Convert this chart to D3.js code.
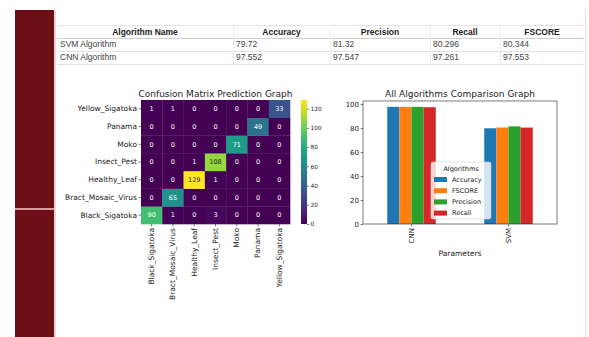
<!DOCTYPE html>
<html><head><meta charset="utf-8">
<script src="https://cdn.jsdelivr.net/npm/d3@7"></script>
<style>
html,body{margin:0;padding:0;background:#fff;}
svg{display:block;}
text{font-family:"DejaVu Sans",sans-serif;}
.tbl text{font-family:"Liberation Sans",Arial,sans-serif;}
</style></head><body>
<svg id="c" width="589" height="337"></svg>
<script>
// ---- results table / bar chart data ----
const tableColumns = ["Algorithm Name", "Accuracy", "Precision", "Recall", "FSCORE"];
const algoNames = ["SVM Algorithm", "CNN Algorithm"];
const algoShort = ["SVM", "CNN"];
const accuracy = [79.72, 97.552];
const precision = [81.32, 97.547];
const recall = [80.296, 97.261];
const fscore = [80.344, 97.553];

// ---- confusion matrix data ----
const classes = ["Black_Sigatoka", "Bract_Mosaic_Virus", "Healthy_Leaf", "Insect_Pest", "Moko", "Panama", "Yellow_Sigatoka"];
const confusion = [
  [90, 1, 0, 3, 0, 0, 0],
  [0, 65, 0, 0, 0, 0, 0],
  [0, 0, 129, 1, 0, 0, 0],
  [0, 0, 1, 108, 0, 0, 0],
  [0, 0, 0, 0, 71, 0, 0],
  [0, 0, 0, 0, 0, 49, 0],
  [1, 1, 0, 0, 0, 0, 33]
];
const colorbarTicks = [0, 20, 40, 60, 80, 100, 120];

// ---- comparison chart settings ----
const barCategories = ["CNN", "SVM"];
const metrics = ["Accuracy", "FSCORE", "Precision", "Recall"];
const metricColors = ["#1f77b4", "#ff7f0e", "#2ca02c", "#d62728"];
const barTicks = [0, 20, 40, 60, 80, 100];

const svg = d3.select("#c");

// page frame: maroon side strip and faint borders
svg.append("rect").attr("x", 15).attr("y", 10).attr("width", 39).attr("height", 327).attr("fill", "#6c0e15");
svg.append("rect").attr("x", 15).attr("y", 208).attr("width", 39).attr("height", 2).attr("fill", "#d49a9f");
svg.append("rect").attr("x", 54).attr("y", 10).attr("width", 2).attr("height", 327).attr("fill", "#f2d0d3");
svg.append("rect").attr("x", 585).attr("y", 10).attr("width", 1).attr("height", 327).attr("fill", "#f4d8da");

// ---------------- table ----------------
const colEdges = [57, 233, 330, 430, 500, 584];
const rowEdges = [25, 38, 51, 64];
const tbl = svg.append("g").attr("class", "tbl");
rowEdges.forEach((y, i) => {
  tbl.append("line").attr("x1", colEdges[0]).attr("x2", colEdges[5]).attr("y1", y + 0.5).attr("y2", y + 0.5)
    .attr("stroke", i === 1 ? "#cfcfcf" : "#e2e2e2").attr("stroke-width", 1);
});
colEdges.slice(1, 5).forEach(x => {
  tbl.append("line").attr("x1", x + 0.5).attr("x2", x + 0.5).attr("y1", rowEdges[0]).attr("y2", rowEdges[3])
    .attr("stroke", "#ececec");
});
tableColumns.forEach((c, i) => {
  tbl.append("text").attr("x", (colEdges[i] + colEdges[i + 1]) / 2).attr("y", 32).attr("dy", "0.35em")
    .attr("text-anchor", "middle").attr("font-size", 8.5).attr("font-weight", "bold").attr("fill", "#222").text(c);
});
const tableRows = algoNames.map((n, i) => [n, accuracy[i], precision[i], recall[i], fscore[i]]);
tableRows.forEach((r, ri) => {
  r.forEach((v, ci) => {
    tbl.append("text").attr("x", colEdges[ci] + 3).attr("y", 44.5 + ri * 13).attr("dy", "0.35em")
      .attr("font-size", 8.5).attr("fill", "#444").text(String(v));
  });
});

// ---------------- confusion matrix heatmap ----------------
const hm = { left: 141, right: 290, top: 100, bottom: 224 };
const vmax = d3.max(confusion.flat());
const hx = d3.scaleBand().domain(classes).range([hm.left, hm.right]);
const hy = d3.scaleBand().domain(classes.slice().reverse()).range([hm.top, hm.bottom]);
const hcol = d3.scaleSequential(d3.interpolateViridis).domain([0, vmax]);

const cells = [];
confusion.forEach((row, i) => row.forEach((v, j) => cells.push({ t: classes[i], p: classes[j], v })));

function lum(c) {
  const rgb = d3.rgb(c);
  const f = u => { u /= 255; return u <= 0.03928 ? u / 12.92 : Math.pow((u + 0.055) / 1.055, 2.4); };
  return 0.2126 * f(rgb.r) + 0.7152 * f(rgb.g) + 0.0722 * f(rgb.b);
}

const hg = svg.append("g");
hg.selectAll("rect.cell").data(cells).join("rect").attr("class", "cell")
  .attr("x", d => hx(d.p)).attr("y", d => hy(d.t))
  .attr("width", hx.bandwidth() + 0.3).attr("height", hy.bandwidth() + 0.3)
  .attr("fill", d => hcol(d.v));
hg.selectAll("text.ann").data(cells).join("text").attr("class", "ann")
  .attr("x", d => hx(d.p) + hx.bandwidth() / 2).attr("y", d => hy(d.t) + hy.bandwidth() / 2)
  .attr("dy", "0.35em").attr("text-anchor", "middle").attr("font-size", 6.5)
  .attr("fill", d => lum(hcol(d.v)) > 0.408 ? "#262626" : "#ffffff").text(d => d.v);

const hyAxis = svg.append("g").attr("transform", `translate(${hm.left},0)`)
  .call(d3.axisLeft(hy).tickSize(2.5).tickPadding(1.5));
hyAxis.select(".domain").remove();
hyAxis.selectAll("text").attr("font-size", 7.5).attr("fill", "#222").attr("font-family", "DejaVu Sans");
hyAxis.selectAll("line").attr("stroke", "#222").attr("stroke-width", 0.6);

const hxAxis = svg.append("g").attr("transform", `translate(0,${hm.bottom})`)
  .call(d3.axisBottom(hx).tickSize(2.5));
hxAxis.select(".domain").remove();
hxAxis.selectAll("line").attr("stroke", "#222").attr("stroke-width", 0.6);
hxAxis.selectAll("text").attr("font-size", 7.5).attr("fill", "#222").attr("font-family", "DejaVu Sans")
  .attr("transform", "rotate(-90)").attr("text-anchor", "end")
  .attr("x", -4).attr("y", 0).attr("dy", "0.32em");

svg.append("text").attr("x", (hm.left + hm.right) / 2).attr("y", 97).attr("text-anchor", "middle")
  .attr("font-size", 9).attr("fill", "#222").text("Confusion Matrix Prediction Graph");

// colorbar
const defs = svg.append("defs");
const grad = defs.append("linearGradient").attr("id", "vir").attr("x1", 0).attr("x2", 0).attr("y1", 1).attr("y2", 0);
d3.range(0, 1.0001, 0.05).forEach(t => grad.append("stop").attr("offset", t).attr("stop-color", d3.interpolateViridis(t)));
const cb = { x: 301, w: 6 };
svg.append("rect").attr("x", cb.x).attr("y", hm.top).attr("width", cb.w).attr("height", hm.bottom - hm.top).attr("fill", "url(#vir)");
const cbScale = d3.scaleLinear().domain([0, vmax]).range([hm.bottom, hm.top]);
const cbAxis = svg.append("g").attr("transform", `translate(${cb.x + cb.w},0)`)
  .call(d3.axisRight(cbScale).tickValues(colorbarTicks).tickSize(2).tickPadding(1.5));
cbAxis.select(".domain").remove();
cbAxis.selectAll("text").attr("font-size", 5.8).attr("fill", "#222").attr("font-family", "DejaVu Sans");
cbAxis.selectAll("line").attr("stroke", "#222").attr("stroke-width", 0.6);

// ---------------- comparison bar chart ----------------
const bc = { left: 363, right: 557, top: 101, bottom: 224 };
const series = { Accuracy: accuracy, FSCORE: fscore, Precision: precision, Recall: recall };
const bx0 = d3.scaleBand().domain(barCategories).range([bc.left, bc.right]).paddingInner(0.5).paddingOuter(0.25);
const bx1 = d3.scaleBand().domain(metrics).range([0, bx0.bandwidth()]);
const ymax = d3.max(metrics.flatMap(m => series[m])) * 1.05;
const by = d3.scaleLinear().domain([0, ymax]).range([bc.bottom, bc.top]);

const bars = [];
barCategories.forEach(cat => {
  const idx = algoShort.indexOf(cat);
  metrics.forEach((m, k) => bars.push({ cat, m, v: series[m][idx], c: metricColors[k] }));
});
svg.append("g").selectAll("rect").data(bars).join("rect")
  .attr("x", d => bx0(d.cat) + bx1(d.m)).attr("width", bx1.bandwidth())
  .attr("y", d => by(d.v)).attr("height", d => by(0) - by(d.v)).attr("fill", d => d.c);

svg.append("rect").attr("x", bc.left).attr("y", bc.top).attr("width", bc.right - bc.left).attr("height", bc.bottom - bc.top)
  .attr("fill", "none").attr("stroke", "#222").attr("stroke-width", 0.6);

const byAxis = svg.append("g").attr("transform", `translate(${bc.left},0)`)
  .call(d3.axisLeft(by).tickValues(barTicks).tickSize(2.5).tickPadding(1.5));
byAxis.select(".domain").remove();
byAxis.selectAll("text").attr("font-size", 7).attr("fill", "#222").attr("font-family", "DejaVu Sans");
byAxis.selectAll("line").attr("stroke", "#222").attr("stroke-width", 0.6);

const bxAxis = svg.append("g").attr("transform", `translate(0,${bc.bottom})`)
  .call(d3.axisBottom(bx0).tickSize(2.5));
bxAxis.select(".domain").remove();
bxAxis.selectAll("line").attr("stroke", "#222").attr("stroke-width", 0.6);
bxAxis.selectAll("text").attr("font-size", 7).attr("fill", "#222").attr("font-family", "DejaVu Sans")
  .attr("transform", "rotate(-90)").attr("text-anchor", "end")
  .attr("x", -4).attr("y", 0).attr("dy", "0.32em");

svg.append("text").attr("x", (bc.left + bc.right) / 2).attr("y", 256).attr("text-anchor", "middle")
  .attr("font-size", 7.5).attr("fill", "#222").text("Parameters");
svg.append("text").attr("x", (bc.left + bc.right) / 2).attr("y", 97).attr("text-anchor", "middle")
  .attr("font-size", 9).attr("fill", "#222").text("All Algorithms Comparison Graph");

// legend
const lg = svg.append("g").attr("transform", "translate(431,162)");
lg.append("rect").attr("width", 60).attr("height", 57).attr("rx", 2)
  .attr("fill", "#fff").attr("fill-opacity", 0.8).attr("stroke", "#d0d0d0").attr("stroke-width", 0.6);
lg.append("text").attr("x", 30).attr("y", 7).attr("dy", "0.35em").attr("text-anchor", "middle")
  .attr("font-size", 6.5).attr("fill", "#222").text("Algorithms");
metrics.forEach((m, k) => {
  const yy = 17.5 + k * 11.2;
  lg.append("rect").attr("x", 3).attr("y", yy - 2.5).attr("width", 13).attr("height", 5).attr("fill", metricColors[k]);
  lg.append("text").attr("x", 21).attr("y", yy).attr("dy", "0.35em").attr("font-size", 6.5).attr("fill", "#222").text(m);
});
</script>
</body></html>
